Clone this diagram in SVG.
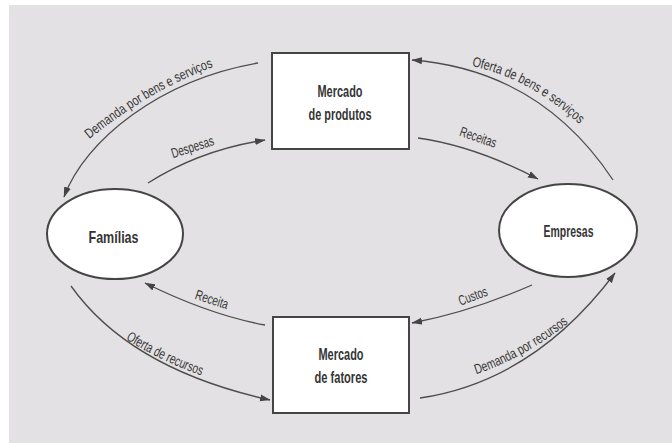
<svg xmlns="http://www.w3.org/2000/svg" xmlns:xlink="http://www.w3.org/1999/xlink" width="672" height="443" viewBox="0 0 672 443">
<style>
.node{fill:#fff;stroke:#454545;stroke-width:2}
.nl{font-family:"Liberation Sans",Arial,sans-serif;font-weight:bold;font-size:17px;fill:#353535;text-anchor:middle}
.conn{fill:none;stroke:#4d4d4d;stroke-width:1.3;marker-end:url(#ah)}
.lbl{font-family:"Liberation Sans",Arial,sans-serif;font-size:14px;fill:#363636}
</style>
<defs>
<marker id="ah" markerUnits="userSpaceOnUse" markerWidth="11" markerHeight="8" refX="10" refY="4" orient="auto">
<path d="M0,0.5 L10.5,4 L0,7.5 z" fill="#444"/>
</marker>
<path id="p1" d="M76.4,149.5 L92,137 Q149,91.5 210,68 L228.7,60.8"/>
<path id="p3" d="M455.5,62.1 L475,66.7 Q530,79.6 577,122 L591.8,135.4"/>
<path id="p6" d="M110,329.5 L127,340 Q161,361 200,375 L218.8,381.8"/>
<path id="p8" d="M457.7,380.4 L476.7,374 Q524.1,358 568,323.3 L584,311"/>
</defs>
<rect x="0" y="0" width="672" height="443" fill="#fff"/>
<rect x="9" y="5" width="663" height="438" fill="#e3e1e3"/>

<g id="connectors">
<path class="conn" d="M258,63 C160,80 85,140 64,197"/>
<path class="conn" d="M148,183 Q200,150 265,140"/>
<path class="conn" d="M613,180 Q540,70 412,60"/>
<path class="conn" d="M418,138 Q475,146 538,179"/>
<path class="conn" d="M265,325 Q210,315 145,283"/>
<path class="conn" d="M71,286 Q130,369 270,400"/>
<path class="conn" d="M532,285 Q470,312 412,323"/>
<path class="conn" d="M420,398 Q534,381 615,273"/>
</g>

<g id="labels">
<text class="lbl"><textPath href="#p1" startOffset="50%" text-anchor="middle" textLength="144" lengthAdjust="spacingAndGlyphs">Demanda por bens e serviços</textPath></text>
<text class="lbl" transform="translate(194,151.5) rotate(-18)" text-anchor="middle" textLength="44" lengthAdjust="spacingAndGlyphs">Despesas</text>
<text class="lbl"><textPath href="#p3" startOffset="50%" text-anchor="middle" textLength="124" lengthAdjust="spacingAndGlyphs">Oferta de bens e serviços</textPath></text>
<text class="lbl" transform="translate(476.7,141.7) rotate(19)" text-anchor="middle" textLength="38" lengthAdjust="spacingAndGlyphs">Receitas</text>
<text class="lbl" transform="translate(210.5,304) rotate(18)" text-anchor="middle" textLength="34" lengthAdjust="spacingAndGlyphs">Receita</text>
<text class="lbl"><textPath href="#p6" startOffset="50%" text-anchor="middle" textLength="84" lengthAdjust="spacingAndGlyphs">Oferta de recursos</textPath></text>
<text class="lbl" transform="translate(474.5,300.5) rotate(-20)" text-anchor="middle" textLength="30" lengthAdjust="spacingAndGlyphs">Custos</text>
<text class="lbl"><textPath href="#p8" startOffset="50%" text-anchor="middle" textLength="106" lengthAdjust="spacingAndGlyphs">Demanda por recursos</textPath></text>
</g>

<g id="mercado-produtos">
<rect class="node" x="272" y="53" width="137" height="96"/>
<text class="nl" x="340" y="97" textLength="45" lengthAdjust="spacingAndGlyphs">Mercado</text>
<text class="nl" x="340" y="120" textLength="63" lengthAdjust="spacingAndGlyphs">de produtos</text>
</g>
<g id="mercado-fatores">
<rect class="node" x="273" y="317" width="136" height="96"/>
<text class="nl" x="341" y="360" textLength="45" lengthAdjust="spacingAndGlyphs">Mercado</text>
<text class="nl" x="341" y="383" textLength="53" lengthAdjust="spacingAndGlyphs">de fatores</text>
</g>
<g id="familias">
<ellipse class="node" cx="115" cy="234" rx="68" ry="45"/>
<text class="nl" x="113.5" y="243" textLength="50" lengthAdjust="spacingAndGlyphs">Famílias</text>
</g>
<g id="empresas">
<ellipse class="node" cx="568" cy="230.5" rx="69" ry="46.5"/>
<text class="nl" x="568.5" y="237" textLength="50" lengthAdjust="spacingAndGlyphs">Empresas</text>
</g>
</svg>
